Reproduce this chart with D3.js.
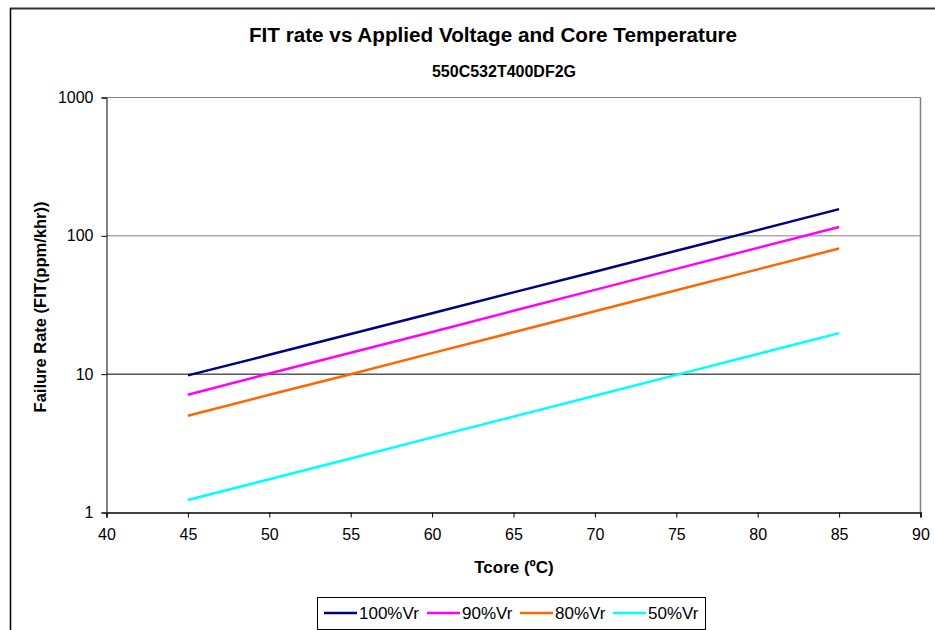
<!DOCTYPE html>
<html>
<head>
<meta charset="utf-8">
<script src="https://cdn.jsdelivr.net/npm/d3@7"></script>
<style>
  body { margin: 0; background: #fff; }
  svg { display: block; font-family: "Liberation Sans", Arial, sans-serif; }
</style>
</head>
<body>
<svg id="chart" width="935" height="630"></svg>
<script>
const temps = [45, 50, 55, 60, 65, 70, 75, 80, 85];
const seriesNames = ["100%Vr", "90%Vr", "80%Vr", "50%Vr"];
const seriesColors = ["#000080", "#FF00FF", "#FF6600", "#00FFFF"];
const v100 = [9.8, 13.8, 19.5, 27.6, 39.0, 55.0, 78.0, 110, 156];
const v90 = [7.1, 10.1, 14.3, 20.2, 28.7, 40.7, 57.7, 81.8, 116];
const v80 = [5.0, 7.1, 10.0, 14.2, 20.1, 28.5, 40.4, 57.2, 81];
const v50 = [1.23, 1.74, 2.46, 3.49, 4.93, 6.98, 9.88, 14.0, 19.8];
const xTicks = [40, 45, 50, 55, 60, 65, 70, 75, 80, 85, 90];
const yTicks = [1, 10, 100, 1000];

(function () {
const seriesValues = [v100, v90, v80, v50];
const svg = d3.select("#chart");
const FF = "'Liberation Sans', Arial, sans-serif";

// outer frame
svg.append("line").attr("x1", 10).attr("x2", 935).attr("y1", 8.5).attr("y2", 8.5)
  .attr("stroke", "#333").attr("stroke-width", 2);
svg.append("line").attr("x1", 10.5).attr("x2", 10.5).attr("y1", 8).attr("y2", 630)
  .attr("stroke", "#000").attr("stroke-width", 1.5);

const pLeft = 106.5, pRight = 920.5, pTop = 97.5, pBottom = 512.5;
const x = d3.scaleLinear().domain([40, 90]).range([pLeft, pRight]);
const y = d3.scaleLog().domain([1, 1000]).range([pBottom, pTop]);

// gridlines
const gridColor = {1000: "#808080", 100: "#808080", 10: "#000"};
[10, 100, 1000].forEach(t => {
  svg.append("line").attr("x1", pLeft).attr("x2", pRight)
    .attr("y1", y(t)).attr("y2", y(t))
    .attr("stroke", gridColor[t]).attr("stroke-width", 1);
});
// right border
svg.append("line").attr("x1", pRight).attr("x2", pRight).attr("y1", pTop).attr("y2", pBottom)
  .attr("stroke", "#808080").attr("stroke-width", 1.5);

// y axis
const yAxis = d3.axisLeft(y).tickValues(yTicks).tickFormat(d3.format("d")).tickSize(5).tickPadding(8);
const gy = svg.append("g").attr("transform", `translate(${pLeft},0)`).call(yAxis);
gy.attr("font-size", 16).attr("font-family", FF);
gy.select(".domain").attr("stroke", "#000");
gy.selectAll(".tick line").attr("stroke", "#000");
gy.selectAll("text").attr("fill", "#000");

// x axis
const xAxis = d3.axisBottom(x).tickValues(xTicks).tickSize(5).tickPadding(11);
const gx = svg.append("g").attr("transform", `translate(0,${pBottom})`).call(xAxis);
gx.attr("font-size", 16).attr("font-family", FF);
gx.select(".domain").attr("stroke", "#404040").attr("stroke-width", 2);
gx.selectAll(".tick line").attr("stroke", "#000");
gx.selectAll("text").attr("fill", "#000");

// lines
const line = d3.line().x((d, i) => x(temps[i])).y(d => y(d));
seriesValues.forEach((vals, k) => {
  svg.append("path").datum(vals).attr("d", line)
    .attr("fill", "none").attr("stroke", seriesColors[k]).attr("stroke-width", 2.5);
});

// titles
svg.append("text").attr("x", 493).attr("y", 42).attr("text-anchor", "middle")
  .attr("font-size", 20.7).attr("font-weight", "bold").text("FIT rate vs Applied Voltage and Core Temperature");
svg.append("text").attr("x", 504).attr("y", 77).attr("text-anchor", "middle")
  .attr("font-size", 16).attr("font-weight", "bold").text("550C532T400DF2G");
svg.append("text").attr("x", 514).attr("y", 573).attr("text-anchor", "middle")
  .attr("font-size", 17).attr("font-weight", "bold").text("Tcore (ºC)");
svg.append("text").attr("transform", "translate(46,307) rotate(-90)").attr("text-anchor", "middle")
  .attr("font-size", 16.5).attr("font-weight", "bold").text("Failure Rate (FIT(ppm/khr))");

// legend
const lg = svg.append("g");
lg.append("rect").attr("x", 317.5).attr("y", 597.5).attr("width", 388).attr("height", 32)
  .attr("fill", "#fff").attr("stroke", "#000").attr("stroke-width", 1);
const legLineX = [324, 427, 520, 613];
const legTextX = [359, 462, 555, 648];
seriesNames.forEach((n, k) => {
  lg.append("line").attr("x1", legLineX[k]).attr("x2", legLineX[k] + 33)
    .attr("y1", 613).attr("y2", 613).attr("stroke", seriesColors[k]).attr("stroke-width", 2.5);
  lg.append("text").attr("x", legTextX[k]).attr("y", 619).attr("font-size", 17).text(n);
});
})();
</script>
</body>
</html>
